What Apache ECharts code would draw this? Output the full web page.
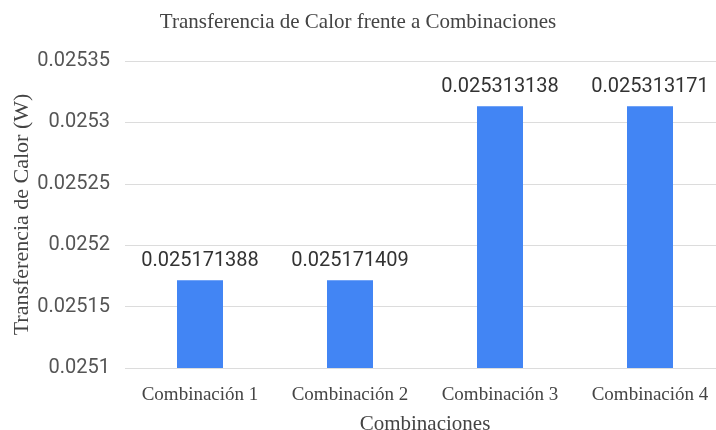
<!DOCTYPE html>
<html>
<head>
<meta charset="utf-8">
<script src="https://cdn.jsdelivr.net/npm/echarts@6/dist/echarts.min.js"></script>
<style>
  html, body { margin: 0; padding: 0; background: #fff; }
  #chart { width: 716px; height: 430px; }
</style>
</head>
<body>
<div id="chart"></div>
<script>
// Heat transfer for each combination (W)
const categories = ['Combinación 1', 'Combinación 2', 'Combinación 3', 'Combinación 4'];
const heatTransfer = [0.025171388, 0.025171409, 0.025313138, 0.025313171];
const yTicks = [0.0251, 0.02515, 0.0252, 0.02525, 0.0253, 0.02535];

const serif = '"Liberation Serif", "DejaVu Serif", serif';
const sans = 'Roboto, "Liberation Sans", Arial, sans-serif';

const chart = echarts.init(document.getElementById('chart'));
chart.setOption({
  animation: false,
  title: {
    text: 'Transferencia de Calor frente a Combinaciones',
    left: 'center',
    top: 7,
    textStyle: { fontFamily: serif, fontSize: 21, fontWeight: 'normal', color: '#444' }
  },
  // plot area runs slightly past the right edge of the canvas
  grid: { left: 125, width: 600, top: 61, bottom: 62, outerBoundsMode: 'none', containLabel: false },
  xAxis: {
    type: 'category',
    data: categories,
    name: 'Combinaciones',
    nameLocation: 'middle',
    nameGap: 46,
    nameMoveOverlap: false,
    nameTextStyle: { fontFamily: serif, fontSize: 21, color: '#444' },
    axisLine: { show: false },
    axisTick: { show: false },
    axisLabel: { fontFamily: serif, fontSize: 19, color: '#444', margin: 18, interval: 0 }
  },
  yAxis: {
    type: 'value',
    min: yTicks[0],
    max: yTicks[yTicks.length - 1],
    interval: 0.00005,
    name: 'Transferencia de Calor (W)',
    nameLocation: 'middle',
    nameGap: 92,
    nameMoveOverlap: false,
    nameTextStyle: { fontFamily: serif, fontSize: 22, color: '#444' },
    axisLine: { show: false },
    axisTick: { show: false },
    splitLine: { lineStyle: { color: '#dcdcdc', width: 1 } },
    axisLabel: {
      fontFamily: sans, fontSize: 20, color: '#555', margin: 15,
      formatter: v => String(+v.toFixed(6))
    }
  },
  series: [{
    type: 'bar',
    data: heatTransfer,
    barWidth: 46,
    itemStyle: { color: '#4285F4' },
    label: {
      show: true,
      position: 'top',
      distance: 9,
      fontFamily: sans,
      fontSize: 20,
      color: '#333',
      formatter: p => String(p.value)
    }
  }]
});
</script>
</body>
</html>
